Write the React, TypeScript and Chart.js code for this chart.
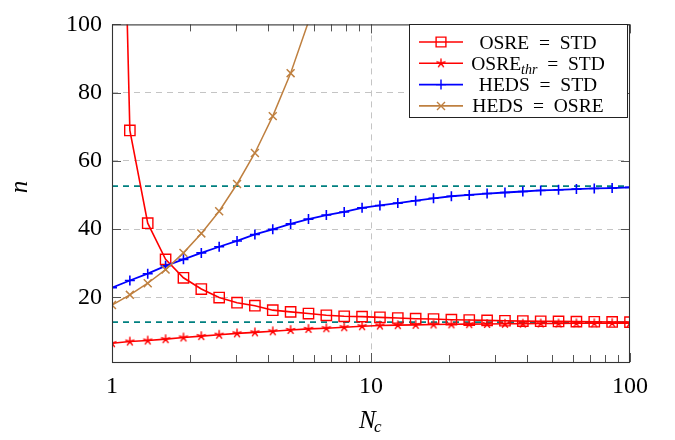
import React, { useEffect, useRef } from "react";
import { Chart, registerables } from "chart.js";

Chart.register(...registerables);

// ---- data ----
const NC = [
  1, 1.1721, 1.3738, 1.6103, 1.8874, 2.2122, 2.5929, 3.0392, 3.5622, 4.1753,
  4.8939, 5.7362, 6.7234, 7.8805, 9.2367, 10.826, 12.69, 14.874, 17.433, 20.434,
  23.95, 28.072, 32.903, 38.566, 45.204, 52.983, 62.102, 72.79, 85.317, 100,
];
const OSRE_STD = [
  285, 68.9, 41.7, 31.1, 25.7, 22.4, 19.9, 18.4, 17.5, 16.2,
  15.7, 15.2, 14.7, 14.4, 14.3, 14.1, 13.9, 13.7, 13.6, 13.4,
  13.3, 13.2, 13.1, 13.0, 12.95, 12.9, 12.85, 12.8, 12.75, 12.7,
];
const OSRE_THR_STD = [
  6.5, 7.0, 7.3, 7.7, 8.2, 8.6, 9.0, 9.4, 9.7, 10.0,
  10.4, 10.7, 10.9, 11.2, 11.5, 11.7, 11.8, 11.9, 12.0, 12.05,
  12.1, 12.15, 12.2, 12.25, 12.3, 12.3, 12.35, 12.35, 12.4, 12.4,
];
const HEDS_STD = [
  22.8, 24.9, 26.9, 29.2, 31.1, 33.0, 34.8, 36.5, 38.4, 39.9,
  41.5, 42.9, 44.1, 45.0, 46.2, 46.9, 47.6, 48.3, 49.0, 49.6,
  50.0, 50.4, 50.7, 51.0, 51.3, 51.5, 51.7, 51.9, 52.0, 52.2,
];
const HEDS_OSRE = [17.7, 20.7, 24.1, 28.1, 33.0, 38.7, 45.2, 53.2, 62.3, 73.1, 85.7, 100.8, 119];
const ASYMPTOTES = [52.6, 12.7];

const X_TICKS = [1, 2, 3, 4, 5, 6, 7, 8, 9, 10, 20, 30, 40, 50, 60, 70, 80, 90, 100];
const X_TICK_LABELS = [1, 10, 100];
const Y_TICKS = [20, 40, 60, 80, 100];
const X_GRID = [10];

const SERIES_NAMES = ["OSRE = STD", "OSRE_thr = STD", "HEDS = STD", "HEDS = OSRE"];

const RED = "#ff0000";
const BLUE = "#0000ff";
const BROWN = "#bf8040";
const TEAL = "#008080";
const SERIF = '"Liberation Serif", "DejaVu Serif", serif';

const pts = (ys: number[]) => ys.map((y, i) => ({ x: NC[i], y }));

function makeStar(color: string, r: number, lw: number) {
  const size = Math.ceil(2 * r + 4);
  const c = document.createElement("canvas");
  c.width = size;
  c.height = size;
  const g = c.getContext("2d")!;
  g.strokeStyle = color;
  g.lineWidth = lw;
  g.beginPath();
  for (let k = 0; k < 5; k++) {
    const a = -Math.PI / 2 + (k * 2 * Math.PI) / 5;
    g.moveTo(size / 2, size / 2);
    g.lineTo(size / 2 + r * Math.cos(a), size / 2 + r * Math.sin(a));
  }
  g.stroke();
  return c;
}

function drawMarker(ctx: CanvasRenderingContext2D, kind: string, x: number, y: number, color: string, star?: HTMLCanvasElement) {
  ctx.save();
  ctx.strokeStyle = color;
  ctx.lineWidth = 1.4;
  ctx.beginPath();
  if (kind === "rect") {
    const s = 4.9;
    ctx.rect(x - s, y - s, 2 * s, 2 * s);
  } else if (kind === "cross") {
    const r = 5;
    ctx.moveTo(x - r, y);
    ctx.lineTo(x + r, y);
    ctx.moveTo(x, y - r);
    ctx.lineTo(x, y + r);
  } else if (kind === "crossRot") {
    const r = 4;
    ctx.moveTo(x - r, y - r);
    ctx.lineTo(x + r, y + r);
    ctx.moveTo(x - r, y + r);
    ctx.lineTo(x + r, y - r);
  }
  ctx.stroke();
  if (kind === "star" && star) {
    ctx.drawImage(star, x - star.width / 2, y - star.height / 2);
  }
  ctx.restore();
}

export default function App() {
  const ref = useRef<HTMLCanvasElement | null>(null);

  useEffect(() => {
    document.body.style.margin = "0";
    const canvas = ref.current;
    if (!canvas) return;
    const star = makeStar(RED, 4.8, 1.4);
    const hideAbove = (r: number) => (c: any) => (c.raw && c.raw.y > 100 ? 0 : r);

    const decor = {
      id: "decor",
      afterDatasetsDraw(chart: any) {
        const { ctx, chartArea: a } = chart;
        const xs = chart.scales.x;
        const ys = chart.scales.y;
        ctx.save();
        // inward tick marks
        ctx.strokeStyle = "#555";
        ctx.lineWidth = 1;
        ctx.beginPath();
        for (const v of X_TICKS) {
          const px = Math.round(xs.getPixelForValue(v)) + 0.5;
          const len = X_TICK_LABELS.includes(v) ? 9 : 7;
          ctx.moveTo(px, a.bottom);
          ctx.lineTo(px, a.bottom - len);
          ctx.moveTo(px, a.top);
          ctx.lineTo(px, a.top + len);
        }
        for (const v of Y_TICKS) {
          const py = Math.round(ys.getPixelForValue(v)) + 0.5;
          ctx.moveTo(a.left, py);
          ctx.lineTo(a.left + 9, py);
          ctx.moveTo(a.right, py);
          ctx.lineTo(a.right - 9, py);
        }
        ctx.stroke();
        // frame
        ctx.strokeStyle = "#333";
        ctx.lineWidth = 1.1;
        ctx.strokeRect(a.left + 0.5, a.top + 0.5, a.right - a.left - 1, a.bottom - a.top);
        ctx.restore();
      },
      afterDraw(chart: any) {
        const { ctx } = chart;
        ctx.save();
        // legend
        const bx = 409.5, by = 24.5, bw = 218, bh = 93;
        ctx.fillStyle = "#fff";
        ctx.fillRect(bx, by, bw, bh);
        ctx.strokeStyle = "#222";
        ctx.lineWidth = 1;
        ctx.strokeRect(bx, by, bw, bh);
        const entries = [
          { color: RED, kind: "rect" },
          { color: RED, kind: "star" },
          { color: BLUE, kind: "cross" },
          { color: BROWN, kind: "crossRot" },
        ];
        const textCx = 538;
        entries.forEach((e, k) => {
          const ry = by + 17.5 + k * 21.3;
          ctx.strokeStyle = e.color;
          ctx.lineWidth = 1.6;
          ctx.beginPath();
          ctx.moveTo(419, ry);
          ctx.lineTo(463, ry);
          ctx.stroke();
          drawMarker(ctx, e.kind, 441, ry, e.color, star);
          ctx.fillStyle = "#000";
          ctx.textBaseline = "alphabetic";
          ctx.textAlign = "left";
          const base = ry + 6.5;
          const name = SERIES_NAMES[k];
          if (name.includes("_")) {
            const [head, rest] = name.split("_");
            const sub = rest.split(" ")[0];
            const tail = rest.slice(sub.length);
            const fMain = `19.5px ${SERIF}`;
            const fSub = `italic 14px ${SERIF}`;
            ctx.font = fMain;
            const w1 = ctx.measureText(head).width;
            const w3 = ctx.measureText(tail.replace(" = ", "  =  ")).width;
            ctx.font = fSub;
            const w2 = ctx.measureText(sub).width;
            let x0 = textCx - (w1 + w2 + w3) / 2;
            ctx.font = fMain;
            ctx.fillText(head, x0, base);
            ctx.font = fSub;
            ctx.fillText(sub, x0 + w1, base + 4);
            ctx.font = fMain;
            ctx.fillText(tail.replace(" = ", "  =  "), x0 + w1 + w2, base);
          } else {
            ctx.font = `19.5px ${SERIF}`;
            ctx.textAlign = "center";
            ctx.fillText(name.replace(" = ", "  =  "), textCx, base);
          }
        });
        // axis titles
        ctx.fillStyle = "#000";
        ctx.textAlign = "left";
        ctx.textBaseline = "alphabetic";
        const fN = `italic 25px ${SERIF}`;
        const fc = `italic 17px ${SERIF}`;
        ctx.font = fN;
        const wN = ctx.measureText("N").width;
        ctx.font = fc;
        const wc = ctx.measureText("c").width;
        const x0 = 371 - (wN + wc) / 2;
        ctx.font = fN;
        ctx.fillText("N", x0, 428);
        ctx.font = fc;
        ctx.fillText("c", x0 + wN - 1.5, 432);
        ctx.save();
        ctx.translate(20, 187);
        ctx.rotate(-Math.PI / 2);
        ctx.font = `italic 25px ${SERIF}`;
        ctx.textAlign = "center";
        ctx.textBaseline = "middle";
        ctx.fillText("n", 0, 0);
        ctx.restore();
        ctx.restore();
      },
    };

    const chart = new Chart(canvas, {
      type: "line",
      data: {
        datasets: [
          {
            label: "asym-high",
            data: [{ x: 1, y: ASYMPTOTES[0] }, { x: 100, y: ASYMPTOTES[0] }],
            borderColor: TEAL,
            borderWidth: 1.7,
            borderDash: [6, 5],
            pointRadius: 0,
            order: 10,
          },
          {
            label: "asym-low",
            data: [{ x: 1, y: ASYMPTOTES[1] }, { x: 100, y: ASYMPTOTES[1] }],
            borderColor: TEAL,
            borderWidth: 1.7,
            borderDash: [6, 5],
            pointRadius: 0,
            order: 9,
          },
          {
            label: SERIES_NAMES[0],
            data: pts(OSRE_STD),
            borderColor: RED,
            borderWidth: 1.6,
            pointStyle: "rect",
            pointRadius: hideAbove(7.3),
            pointBorderWidth: 1.4,
            pointBackgroundColor: "rgba(0,0,0,0)",
            pointBorderColor: RED,
            order: 8,
          },
          {
            label: SERIES_NAMES[1],
            data: pts(OSRE_THR_STD),
            borderColor: RED,
            borderWidth: 1.6,
            pointStyle: star as any,
            pointRadius: 5,
            order: 7,
          },
          {
            label: SERIES_NAMES[2],
            data: pts(HEDS_STD),
            borderColor: BLUE,
            borderWidth: 1.8,
            pointStyle: "cross",
            pointRadius: 5,
            pointBorderWidth: 1.6,
            pointBorderColor: BLUE,
            order: 6,
          },
          {
            label: SERIES_NAMES[3],
            data: pts(HEDS_OSRE),
            borderColor: BROWN,
            borderWidth: 1.5,
            pointStyle: "crossRot",
            pointRadius: hideAbove(5.6),
            pointBorderWidth: 1.5,
            pointBorderColor: BROWN,
            order: 5,
          },
        ],
      },
      options: {
        responsive: false,
        animation: false,
        events: [],
        layout: { padding: { left: 0, right: 45, top: 12, bottom: 0 } },
        elements: { line: { tension: 0, fill: false } },
        plugins: { legend: { display: false }, tooltip: { enabled: false } },
        scales: {
          x: {
            type: "logarithmic",
            min: 1,
            max: 100,
            afterBuildTicks: (s: any) => {
              s.ticks = X_TICKS.map((v) => ({ value: v }));
            },
            afterFit: (s: any) => {
              s.height = 78;
            },
            ticks: {
              autoSkip: false,
              maxRotation: 0,
              padding: 10,
              color: "#000",
              font: { family: SERIF, size: 24 },
              callback: (v: any) => (X_TICK_LABELS.includes(Number(v)) ? String(v) : ""),
            },
            grid: {
              drawTicks: false,
              color: (c: any) => (c.tick && X_GRID.includes(c.tick.value) ? "#c4c4c4" : "rgba(0,0,0,0)"),
              lineWidth: 1,
            },
            border: { display: false, dash: [6, 5] },
          },
          y: {
            type: "linear",
            min: 1,
            max: 100,
            afterBuildTicks: (s: any) => {
              s.ticks = Y_TICKS.map((v) => ({ value: v }));
            },
            afterFit: (s: any) => {
              s.width = 112;
            },
            ticks: {
              padding: 10,
              color: "#000",
              font: { family: SERIF, size: 24 },
              callback: (v: any) => String(v),
            },
            grid: {
              drawTicks: false,
              color: (c: any) => (c.tick && c.tick.value < 100 ? "#c4c4c4" : "rgba(0,0,0,0)"),
              lineWidth: 1,
            },
            border: { display: false, dash: [6, 5] },
          },
        },
      },
      plugins: [decor],
    } as any);

    return () => chart.destroy();
  }, []);

  return (
    <div style={{ width: 675, height: 440, position: "relative", background: "#fff" }}>
      <canvas ref={ref} width={675} height={440} />
    </div>
  );
}
